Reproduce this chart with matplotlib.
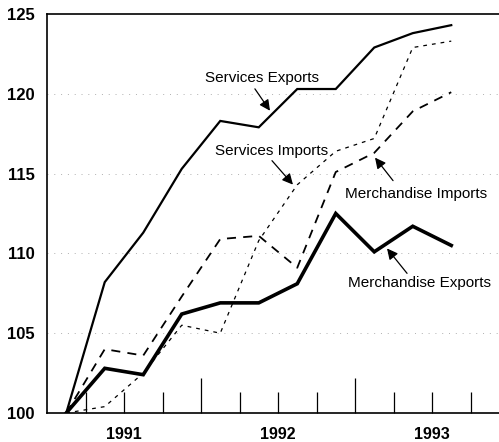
import numpy as np
import matplotlib
matplotlib.use('Agg')
import matplotlib.pyplot as plt

plt.rcParams['font.family'] = ['Liberation Sans', 'DejaVu Sans']

# quarterly index values, first quarter = 100
quarters = 1991.125 + 0.25 * np.arange(11)
services_exports = [100.0, 108.2, 111.3, 115.3, 118.3, 117.9, 120.3, 120.3, 122.9, 123.8, 124.3]
merchandise_exports = [100.0, 102.8, 102.4, 106.2, 106.9, 106.9, 108.1, 112.5, 110.1, 111.7, 110.5]
services_imports = [100.0, 100.4, 102.5, 105.5, 105.0, 110.8, 114.3, 116.4, 117.2, 122.9, 123.3]
merchandise_imports = [100.0, 104.0, 103.6, 107.3, 110.9, 111.1, 109.1, 115.1, 116.3, 118.9, 120.1]

year_labels = ['1991', '1992', '1993']
y_ticks = [100, 105, 110, 115, 120, 125]

fig = plt.figure(figsize=(4.99, 4.42), dpi=100)
ax = fig.add_axes([47 / 499, 29 / 442, 452 / 499, 399 / 442])

# faint dotted guide lines
for v in [105, 110, 115, 120]:
    ax.axhline(v, color='#b0b0b0', lw=0.7, linestyle=(0, (1, 6)), zorder=0)

ax.plot(quarters, services_exports, color='black', lw=1.6, solid_joinstyle='miter')
ax.plot(quarters, merchandise_exports, color='black', lw=2.6, solid_joinstyle='miter')
ax.plot(quarters, merchandise_imports, color='black', lw=1.3, linestyle=(0, (5, 4)))
ax.plot(quarters, services_imports, color='black', lw=0.9, linestyle=(0, (3, 4)))

ax.set_xlim(1991.0, 1991.0 + 452 / 154)
ax.set_ylim(100, 125)

# quarter ticks (inward), year boundaries taller
quarter_ticks = [1991.25, 1991.5, 1991.75, 1992.25, 1992.5, 1992.75, 1993.25, 1993.5, 1993.75]
ax.set_xticks(quarter_ticks)
ax.set_xticklabels(['', year_labels[0], '', '', year_labels[1], '', '', year_labels[2], ''])
ax.set_xticks([1992.0, 1993.0], minor=True)
ax.tick_params(axis='x', which='major', direction='in', length=15, width=0.9,
               pad=10, labelsize=11.5)
ax.tick_params(axis='x', which='minor', direction='in', length=25, width=0.9)
for lab in ax.get_xticklabels():
    lab.set_fontweight('bold')

ax.set_yticks(y_ticks)
ax.tick_params(axis='y', length=0, pad=9, labelsize=12)
for lab in ax.get_yticklabels():
    lab.set_fontweight('bold')

ax.spines['right'].set_visible(False)
for s in ['left', 'bottom', 'top']:
    ax.spines[s].set_linewidth(1.2)

label_font = dict(family=['Liberation Sans', 'DejaVu Sans'],
                  fontsize=11, ha='center', va='center')
arrow = dict(arrowstyle='-|>', mutation_scale=16, lw=0.9, color='black',
             shrinkA=0, shrinkB=0)

ax.text(1992.396, 121.0, 'Services Exports', **label_font)
ax.annotate('', xy=(1992.448, 118.94), xytext=(1992.35, 120.31), arrowprops=arrow)

ax.text(1992.455, 116.44, 'Services Imports', **label_font)
ax.annotate('', xy=(1992.597, 114.31), xytext=(1992.461, 115.81), arrowprops=arrow)

ax.text(1993.396, 113.75, 'Merchandise Imports', **label_font)
ax.annotate('', xy=(1993.13, 116.0), xytext=(1993.247, 114.56), arrowprops=arrow)

ax.text(1993.42, 108.125, 'Merchandise Exports', **label_font)
ax.annotate('', xy=(1993.208, 110.31), xytext=(1993.338, 108.75), arrowprops=arrow)

fig.savefig('out.png', dpi=100)
